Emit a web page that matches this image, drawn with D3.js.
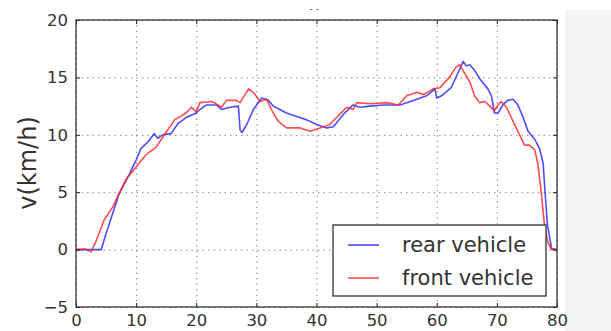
<!DOCTYPE html>
<html>
<head>
<meta charset="utf-8">
<script src="https://cdn.jsdelivr.net/npm/d3@7"></script>
<style>
  body { margin: 0; background: #fff; }
  text { font-family: "DejaVu Sans", sans-serif; fill: #222; }
</style>
</head>
<body>
<script>
// values: time (s) and speed (km/h)
const rearT = [0,4.2,5,7.2,8.9,10,10.8,12,13,13.6,14.4,15.8,17,18.3,20,20.6,21.7,23.4,24.2,25.6,27,27.3,27.6,28.4,29.5,30.9,32,32.8,33.9,35,36.7,38.4,40,41.7,42.8,44.5,46.1,47.2,48.9,51.1,53.9,55,56.7,58.3,59.7,60,60.8,62.4,63.8,64.4,64.9,65.5,66.3,67.4,68.5,69.1,69.6,70.2,71,71.8,72.7,73.5,74.3,75.2,76.3,77.1,77.7,78,78.4,79.1,80];
const rearV = [0,0,1.4,4.9,6.6,7.8,8.8,9.4,10.1,9.7,10,10.1,11,11.5,11.9,12.2,12.6,12.6,12.2,12.4,12.5,10.4,10.2,10.9,12.2,13.2,13,12.5,12.2,11.9,11.6,11.3,10.9,10.6,10.7,11.8,12.6,12.4,12.5,12.6,12.6,12.8,13.1,13.4,14,13.2,13.4,14.1,15.7,16.4,16,16.1,15.6,14.7,14,13.4,11.9,11.9,12.6,13,13.1,12.6,11.6,10.3,9.6,8.8,7.5,5.1,2.2,0.1,0];

const frontT = [0,1.5,2.5,3.3,4.7,6.1,6.9,8.3,10,11.7,13.3,14.7,16.4,18.3,19.2,20,20.6,22.6,24.2,25,26.7,27.3,28.7,29.5,30.6,31.7,32.5,33.6,35,37.3,38.9,40.6,42.2,43.9,45,46.1,46.7,48.9,51.7,53.6,55,56.7,57.8,59.4,60.5,62.1,63.2,63.8,64.6,65.5,66.3,67.1,68,68.8,69.6,70.2,70.7,71.6,72.4,73.5,74.6,75.4,76.3,76.8,77.4,77.9,78.5,79.1,80];
const frontV = [0,0.05,-0.2,0.7,2.6,3.7,4.6,6.1,7.2,8.3,8.9,10,11.3,11.9,12.4,12,12.8,12.9,12.4,13,13,12.8,14,13.7,12.9,13.1,12.2,11.2,10.6,10.6,10.3,10.6,10.9,11.8,12.4,12.2,12.8,12.7,12.8,12.6,13.4,13.7,13.5,14,14.1,15,15.9,16.1,15.4,14.6,13.4,12.8,12.9,12.5,12.1,12.6,12.9,12.4,11.5,10.3,9.1,9.1,8.7,7.5,4.9,2.2,0.6,0,0];

const xTicks = [0,10,20,30,40,50,60,70,80];
const yTicks = [-5,0,5,10,15,20];
const seriesNames = ["rear vehicle", "front vehicle"];
const seriesColors = ["#2020ff", "#ff2020"];

const WIDTH = 611, HEIGHT = 331;
const LEFT = 76, TOP = 20, RIGHT = 557, BOTTOM = 307;

let svg = d3.select("body").append("svg")
    .attr("width", WIDTH)
    .attr("height", HEIGHT);

// light grey strip on the right edge
svg.append("rect").attr("x", 565).attr("y", 10)
    .attr("width", WIDTH - 565).attr("height", HEIGHT - 10)
    .attr("fill", "#f4f4f4");

// leftover marks of a cut title
svg.append("text").attr("x", 314).attr("y", 12)
    .attr("text-anchor", "middle").style("font-size", "9px").style("fill", "#555")
    .text("-     -");

let xscale = d3.scaleLinear().domain([0, 80]).range([LEFT, RIGHT]);
let yscale = d3.scaleLinear().domain([-5, 20]).range([BOTTOM, TOP]);

// gridlines
let gx = svg.append("g").attr("transform", "translate(0," + BOTTOM + ")")
    .call(d3.axisBottom(xscale).tickValues(xTicks).tickFormat("").tickSize(-(BOTTOM - TOP)));
let gy = svg.append("g").attr("transform", "translate(" + LEFT + ",0)")
    .call(d3.axisLeft(yscale).tickValues(yTicks).tickFormat("").tickSize(-(RIGHT - LEFT)));
[gx, gy].forEach(g => {
    g.select(".domain").remove();
    g.selectAll("line").attr("stroke", "#888").attr("stroke-width", 1)
        .attr("stroke-dasharray", "1.5,4");
});

// lines
const lineFn = (ts, vs) => d3.line()
    .x((d, i) => xscale(ts[i]))
    .y((d, i) => yscale(vs[i]))(vs);

const series = [[rearT, rearV], [frontT, frontV]];
series.forEach((s, i) => {
    svg.append("path")
        .attr("d", lineFn(s[0], s[1]))
        .attr("fill", "none")
        .attr("stroke", seriesColors[i])
        .attr("stroke-opacity", 0.8)
        .attr("stroke-width", 1.6)
        .attr("stroke-linejoin", "round");
});

// axes with inward ticks on all four sides
const fmt = d => d < 0 ? "\u2212" + Math.abs(d) : String(d);
let axB = svg.append("g").attr("transform", "translate(0," + BOTTOM + ")")
    .call(d3.axisBottom(xscale).tickValues(xTicks).tickFormat(fmt).tickSize(-4).tickPadding(7));
let axT = svg.append("g").attr("transform", "translate(0," + TOP + ")")
    .call(d3.axisTop(xscale).tickValues(xTicks).tickFormat("").tickSize(-4));
let axL = svg.append("g").attr("transform", "translate(" + LEFT + ",0)")
    .call(d3.axisLeft(yscale).tickValues(yTicks).tickFormat(fmt).tickSize(-4).tickPadding(8));
let axR = svg.append("g").attr("transform", "translate(" + RIGHT + ",0)")
    .call(d3.axisRight(yscale).tickValues(yTicks).tickFormat("").tickSize(-4));
[axB, axT, axL, axR].forEach(g => {
    g.select(".domain").remove();
    g.selectAll("line").attr("stroke", "#222");
    g.selectAll("text").style("font-size", "16.5px").style("fill", "#333")
        .style("font-family", "DejaVu Sans, sans-serif");
});

svg.append("rect").attr("x", LEFT).attr("y", TOP)
    .attr("width", RIGHT - LEFT).attr("height", BOTTOM - TOP)
    .attr("fill", "none").attr("stroke", "#333").attr("stroke-width", 1.3);

// y label
svg.append("text")
    .attr("transform", "translate(36,163) rotate(-90)")
    .attr("text-anchor", "middle")
    .style("font-size", "24px").style("fill", "#333")
    .text("v(km/h)");

// legend
let legend = svg.append("g");
legend.append("rect").attr("x", 333).attr("y", 225)
    .attr("width", 213).attr("height", 71)
    .attr("fill", "#fff").attr("stroke", "#333").attr("stroke-width", 1.3);
seriesNames.forEach((name, i) => {
    let y = 245 + i * 33;
    legend.append("line").attr("x1", 348).attr("x2", 379).attr("y1", y).attr("y2", y)
        .attr("stroke", seriesColors[i]).attr("stroke-opacity", 0.8).attr("stroke-width", 1.6);
    legend.append("text").attr("x", 402).attr("y", y + 7)
        .style("font-size", "21px").style("fill", "#333").text(name);
});
</script>
</body>
</html>
